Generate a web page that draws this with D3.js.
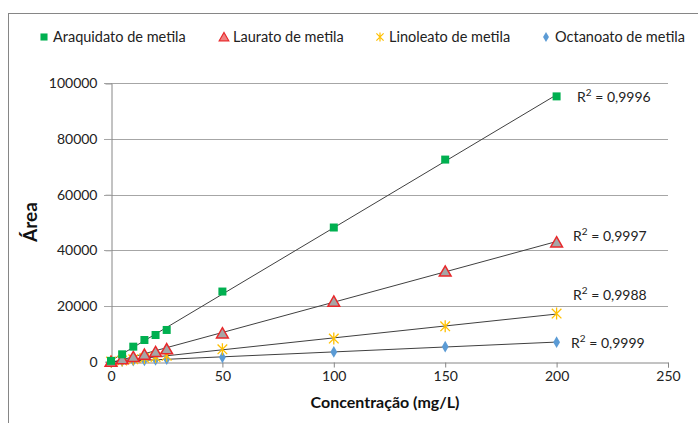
<!DOCTYPE html>
<html><head><meta charset="utf-8">
<script src="https://cdn.jsdelivr.net/npm/d3@7"></script>
<style>body{margin:0;background:#fff}svg{display:block;font-family:Lato,"Liberation Sans",sans-serif}</style>
</head><body><svg id="c" width="698" height="423"></svg>
<script>
const conc = [0, 5, 10, 15, 20, 25, 50, 100, 150, 200];
const seriesNames = ["Araquidato de metila", "Laurato de metila", "Linoleato de metila", "Octanoato de metila"];
const araquidato = [300, 2650, 5400, 7800, 9600, 11400, 25200, 48200, 72600, 95300];
const laurato = [100, 1000, 1800, 2650, 3600, 4600, 10300, 21700, 32500, 43000];
const linoleato = [50, 400, 850, 1300, 1700, 2100, 4450, 8300, 12700, 17300];
const octanoato = [0, 180, 350, 500, 700, 900, 1600, 3500, 5400, 7000];
const r2Values = ["0,9996", "0,9997", "0,9988", "0,9999"];
const xTicks = [0, 50, 100, 150, 200, 250];
const yTicks = [0, 20000, 40000, 60000, 80000, 100000];

const values = [araquidato, laurato, linoleato, octanoato];
const colors = ["#00b050", "#e8282b", "#ffc000", "#4a8fd8"];
const fills = ["#00b050", "#a6a6a6", "#ffc000", "#5b9bd5"];

const svg = d3.select("#c");
svg.append("rect").attr("x", 8.5).attr("y", 13.5).attr("width", 720).attr("height", 430)
  .attr("fill", "none").attr("stroke", "#868686");

const x = d3.scaleLinear().domain([0, 250]).range([111, 668]);
const y = d3.scaleLinear().domain([0, 100000]).range([361.7, 83.3]);

svg.append("g").selectAll("line").data(yTicks.slice(1)).join("line")
  .attr("x1", 104).attr("x2", 668).attr("y1", d => Math.round(y(d)) + 0.5).attr("y2", d => Math.round(y(d)) + 0.5)
  .attr("stroke", "#a6a6a6").attr("stroke-width", 1);

const xa = svg.append("g").attr("transform", `translate(0,${Math.round(y(0)) + 0.5})`)
  .call(d3.axisBottom(x).tickValues(xTicks).tickSize(5).tickPadding(4).tickFormat(d3.format("d")));
const ya = svg.append("g").attr("transform", `translate(${Math.round(x(0)) + 0.5},0)`)
  .call(d3.axisLeft(y).tickValues(yTicks).tickSize(6).tickPadding(8).tickFormat(d3.format("d")));
[xa, ya].forEach(a => {
  a.select(".domain").attr("stroke", "#868686");
  a.selectAll(".tick line").attr("stroke", "#868686");
  a.selectAll("text").attr("font-size", 14).attr("fill", "#222").attr("font-family", "Lato, sans-serif");
});
ya.selectAll(".tick line").attr("stroke", d => d === 0 ? "#868686" : "#a6a6a6");

function fit(xs, ys) {
  const n = xs.length, mx = d3.mean(xs), my = d3.mean(ys);
  let sxy = 0, sxx = 0;
  for (let i = 0; i < n; i++) { sxy += (xs[i] - mx) * (ys[i] - my); sxx += (xs[i] - mx) ** 2; }
  const b = sxy / sxx; return { b, a: my - b * mx };
}
values.forEach(vs => {
  const f = fit(conc, vs);
  svg.append("line").attr("x1", x(0)).attr("y1", y(f.a)).attr("x2", x(200)).attr("y2", y(f.a + f.b * 200))
    .attr("stroke", "#404040").attr("stroke-width", 1);
});

// Excel-style star: x cross plus vertical bar
function starPath(r) {
  const k = r * 0.8;
  return `M${-k},${-k}L${k},${k}M${-k},${k}L${k},${-k}M0,${-r}L0,${r}`;
}
const sq = d3.symbol().type(d3.symbolSquare).size(64);
const tri = d3.symbol().type(d3.symbolTriangle).size(60);
const dia = d3.symbol().type(d3.symbolDiamond).size(40);
const symD = [sq(), tri(), starPath(6), dia()];

[3, 2, 1, 0].forEach(si => {
  const g = svg.append("g");
  g.selectAll("path").data(conc.map((c, i) => [c, values[si][i]])).join("path")
    .attr("d", symD[si])
    .attr("transform", d => `translate(${x(d[0])},${y(d[1]) + (si === 1 ? 1.5 : 0)})`)
    .attr("fill", si === 2 ? "none" : fills[si])
    .attr("stroke", si === 0 || si === 3 ? "none" : colors[si])
    .attr("stroke-width", si === 1 ? 1.5 : 1.3);
});

const r2Pos = [[577, 97], [573, 236], [573, 295], [571, 343]];
r2Values.forEach((t, i) => {
  const tx = svg.append("text").attr("x", r2Pos[i][0]).attr("y", r2Pos[i][1] + 5)
    .attr("font-size", 14).attr("fill", "#222");
  tx.append("tspan").text("R");
  tx.append("tspan").attr("font-size", 10).attr("dy", -6).text("2");
  tx.append("tspan").attr("dy", 6).text(" = " + t);
});

const legX = [44, 224, 380, 546];
seriesNames.forEach((n, i) => {
  const ld = [d3.symbol().type(d3.symbolSquare).size(50)(), d3.symbol().type(d3.symbolTriangle).size(40)(),
    starPath(4.5), d3.symbol().type(d3.symbolDiamond).size(30)()][i];
  svg.append("path").attr("d", ld).attr("transform", `translate(${legX[i]},${i === 1 ? 38 : 37})`)
    .attr("fill", i === 2 ? "none" : (i === 1 ? "#f08080" : fills[i]))
    .attr("stroke", i === 0 || i === 3 ? "none" : colors[i]).attr("stroke-width", 1.2);
  svg.append("text").attr("x", legX[i] + 9).attr("y", 37).attr("dy", "0.35em")
    .attr("font-size", 14.5).attr("fill", "#222").text(n);
});

svg.append("text").attr("transform", "translate(37,222) rotate(-90)").attr("text-anchor", "middle")
  .attr("font-size", 19).attr("font-weight", "bold").attr("fill", "#111").text("Área");
svg.append("text").attr("x", 385).attr("y", 408).attr("text-anchor", "middle")
  .attr("font-size", 16).attr("font-weight", "bold").attr("fill", "#111").text("Concentração (mg/L)");
</script></body></html>
